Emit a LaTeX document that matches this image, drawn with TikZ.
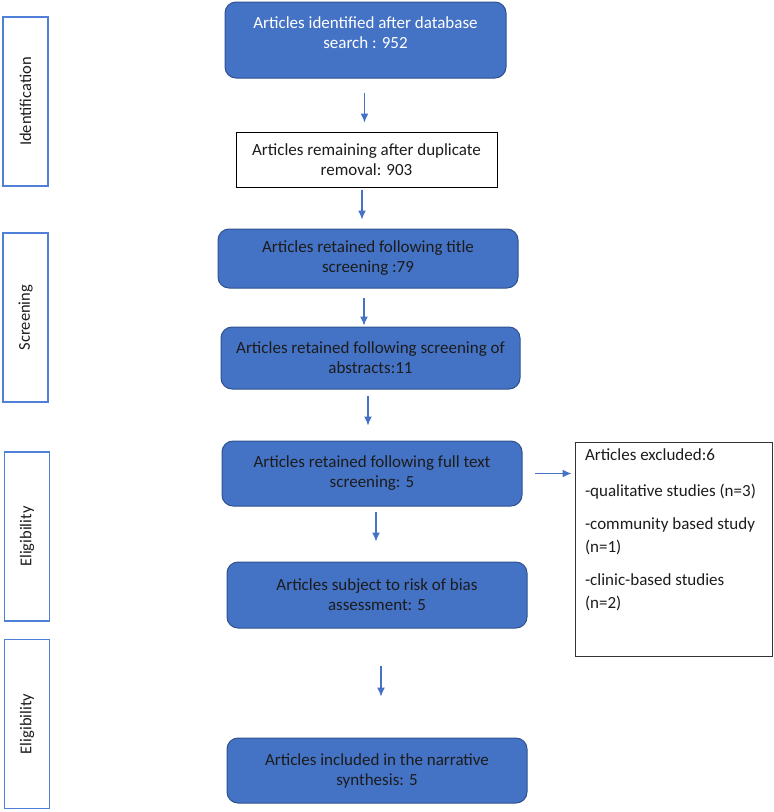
\documentclass[tikz,border=0pt]{standalone}
\usepackage{fontspec}
\setmainfont{Carlito}
\usepackage{tikz}
\usetikzlibrary{positioning}
\usetikzlibrary{shapes,arrows,arrows.meta}
\definecolor{boxblue}{HTML}{4472C4}
\definecolor{boxedge}{HTML}{2F528F}
\definecolor{stageblue}{HTML}{4F7FD6}
\definecolor{darktext}{HTML}{1C1C1C}
\tikzstyle{bluebox} = [rectangle, draw=boxedge, fill=boxblue, line width=1pt,
    rounded corners=11pt, align=center, inner sep=0pt, text=darktext,
    font=\fontsize{17}{20}\selectfont]
\tikzstyle{plainbox} = [rectangle, draw=black, fill=white, line width=1pt,
    align=center, inner sep=0pt, text=darktext, font=\fontsize{17}{20}\selectfont]
\tikzstyle{stage} = [rectangle, draw=stageblue, line width=1.5pt, rotate=90,
    minimum width=169pt, minimum height=45pt, text=darktext,
    font=\fontsize{16.5}{19}\selectfont]
\tikzstyle{exclbox} = [rectangle, draw=black!80, line width=1pt, inner xsep=10pt,
    inner ysep=7pt, text=darktext, font=\fontsize{17}{23}\selectfont]
\tikzstyle{line} = [draw, -{Latex[length=9pt,width=8pt]}, draw=boxblue, fill=boxblue, line width=1.2pt]

\begin{document}
\begin{tikzpicture}[x=1pt, y=-1pt, node distance = 40pt]
\useasboundingbox (0,0) rectangle (774,812);
            % Stages
        \node [stage] (idstage) at (25.5,101.5) {Identification};
        \node [stage] (scrstage) at (25.5,317.5) {Screening};
        \node [stage] (elistage) at (27,536.5) {Eligibility};
        \node [stage] (incstage) at (27,724) {Eligibility};
            % Nodes
        \node [bluebox, minimum width=281pt, minimum height=76pt, text=white] (ident) at (365.5,40)
            {Articles identified after database\\search : 952\\[-6pt]~};
        \node [plainbox, minimum width=261pt, minimum height=55pt, below = 53pt of ident, xshift=1pt] (dedup)
            {Articles remaining after duplicate\\removal: 903};
        \node [bluebox, minimum width=300pt, minimum height=59pt, below = 41pt of dedup, xshift=1.5pt] (title)
            {Articles retained following title\\screening :79};
        \node [bluebox, minimum width=299pt, minimum height=62pt, below = 38pt of title, xshift=2.5pt] (abstr)
            {Articles retained following screening of\\abstracts:11};
        \node [bluebox, minimum width=300pt, minimum height=65pt, below = 51pt of abstr, xshift=1.5pt] (full)
            {Articles retained following full text\\screening: 5};
        \node [bluebox, minimum width=300pt, minimum height=66pt, below = 55pt of full, xshift=5pt] (bias)
            {Articles subject to risk of bias\\assessment: 5};
        \node [bluebox, minimum width=300pt, minimum height=65pt, below = 109pt of bias] (synth)
            {Articles included in the narrative\\synthesis: 5};
        \node [exclbox, right = 52pt of full.north east, anchor=north west, yshift=-1pt] (excl)
            {\parbox[t][200pt][t]{177pt}{Articles excluded:6\\[13pt]
            -qualitative studies (n=3)\\[10pt]
            -community based study\\(n=1)\\[10pt]
            -clinic-based studies\\(n=2)}};
            % Edges
        \path [line, shorten <=14pt, shorten >=9pt] ([xshift=-1pt]ident.south) -- ([xshift=-1pt]ident.south |- dedup.north);
        \path [line, shorten <=2pt, shorten >=9pt] ([xshift=-4.5pt]dedup.south) -- ([xshift=-4.5pt]dedup.south |- title.north);
        \path [line, shorten <=9pt, shorten >=1pt] ([xshift=-4pt]title.south) -- ([xshift=-4pt]title.south |- abstr.north);
        \path [line, shorten <=6pt, shorten >=15pt] ([xshift=-2.5pt]abstr.south) -- ([xshift=-2.5pt]abstr.south |- full.north);
        \path [line, shorten <=5pt, shorten >=20pt] ([xshift=4pt]full.south) -- ([xshift=4pt]full.south |- bias.north);
        \path [line, shorten <=37pt, shorten >=41pt] ([xshift=4pt]bias.south) -- ([xshift=4pt]bias.south |- synth.north);
        \path [line, shorten <=12pt, shorten >=3pt] (full.east) -- (full.east -| excl.west);
\end{tikzpicture}
\end{document}
